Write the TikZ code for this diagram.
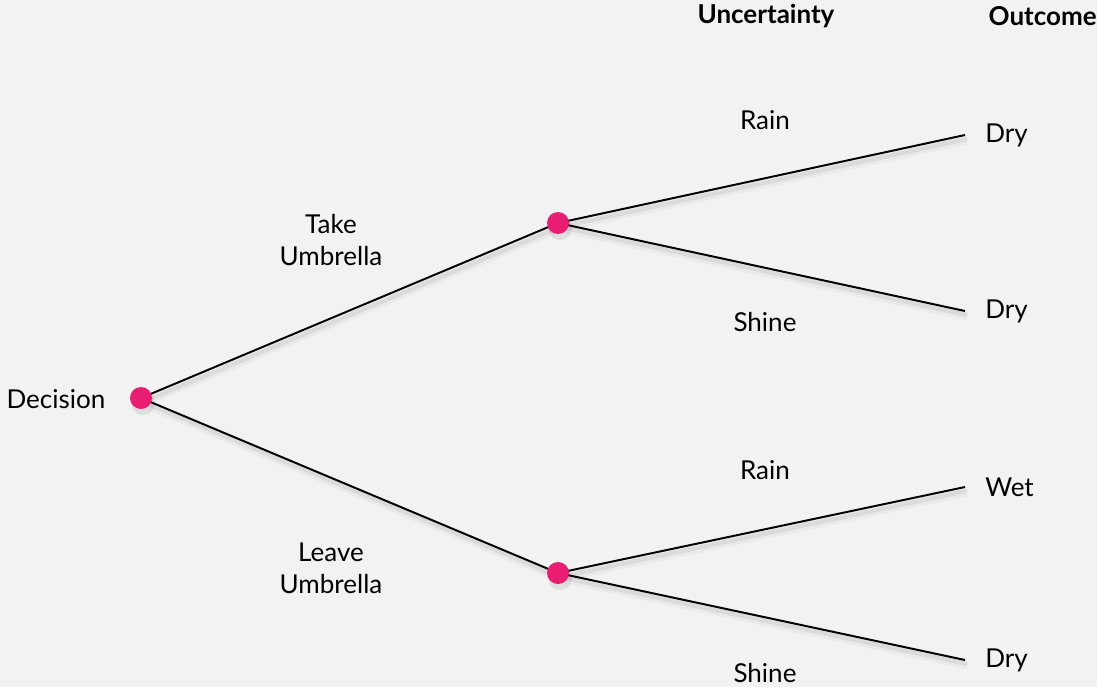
\documentclass[tikz,border=0pt]{standalone}
\usepackage{fontspec}
\setmainfont{Lato}
\usepackage{tikz}
\usetikzlibrary{positioning}

\definecolor{bgcol}{HTML}{F2F2F2}
\definecolor{dotpink}{HTML}{E91E73}

\begin{document}
\begin{tikzpicture}[
  x=0.025cm, y=-0.025cm,
  dot/.style={circle, fill=dotpink, inner sep=0pt, minimum size=0.55cm},
  tip/.style={coordinate},
  branch/.style={line width=1.4pt, black},
  shade/.style={line width=3pt, black, opacity=0.06},
  lbl/.style={font=\fontsize{18.5}{22.7}\selectfont, align=center, inner sep=0pt},
  head/.style={lbl, font=\fontsize{18.5}{22.7}\selectfont\bfseries}
]
\fill[bgcol] (0,0) rectangle (1097,687);
\useasboundingbox (0,0) rectangle (1097,687);

% tree points
\coordinate (dec) at (141,398);
\coordinate (take) at (558,223);
\coordinate (leave) at (558,573);
\node[tip] (o1) at (965,135) {};
\node[tip] (o2) at (965,311) {};
\node[tip] (o3) at (965,487) {};
\node[tip] (o4) at (965,660) {};

% shadows
\foreach \a/\b in {dec/take, dec/leave, take/o1, take/o2, leave/o3, leave/o4}
  \draw[shade] ([shift={(2,4)}]\a) -- ([shift={(2,4)}]\b);
\foreach \a/\b in {dec/take, dec/leave, take/o1, take/o2, leave/o3, leave/o4}
  \draw[shade, line width=6pt, opacity=0.03] ([shift={(2,5)}]\a) -- ([shift={(2,5)}]\b);

% branches
\draw[branch] (dec) -- (take);
\draw[branch] (dec) -- (leave);
\draw[branch] (take) -- (o1);
\draw[branch] (take) -- (o2);
\draw[branch] (leave) -- (o3);
\draw[branch] (leave) -- (o4);

% dots
\foreach \p in {dec, take, leave} {
  \fill[black, opacity=0.08] ([shift={(2,5)}]\p) circle (12);
  \node[dot] (n\p) at (\p) {};
}

% labels
\node[lbl] (ldec) at (56,399) {Decision};
\node[lbl] (ltake) at (331,240) {Take\\Umbrella};
\node[lbl] (lleave) at (331,568) {Leave\\Umbrella};
\node[lbl] (r1) at (765,120) {Rain};
\node[lbl] (s1) at (765,322) {Shine};
\node[lbl] (r2) at (765,470) {Rain};
\node[lbl] (s2) at (765,673) {Shine};
\node[lbl, anchor=west] (e1) at (o1) [xshift=0.5cm] {Dry};
\node[lbl, anchor=west] (e2) at (o2) [xshift=0.5cm] {Dry};
\node[lbl, anchor=west] (e3) at (o3) [xshift=0.5cm] {Wet};
\node[lbl, anchor=west] (e4) at (o4) [xshift=0.5cm] {Dry};
\node[head] (hunc) at (766,16) {Uncertainty};
\node[head, anchor=east] (hout) at (1097,16) {Outcome};
\end{tikzpicture}
\end{document}
